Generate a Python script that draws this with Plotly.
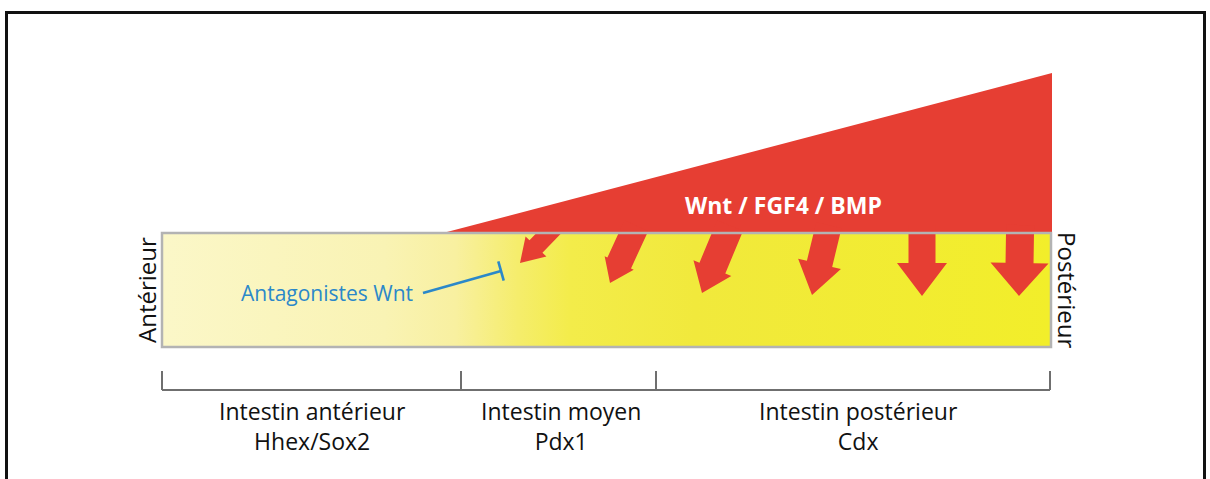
import math
import plotly.graph_objects as go

# ---------------- data ----------------
W, H = 1210, 479
FONT = "Open Sans"

# gut tube (yellow band)
TUBE_X = [162, 1051]
TUBE_Y = [233, 347]
# tube colour gradient (position fraction, colour)
GRAD_POS = [0.0, 0.25, 0.33, 0.40, 0.46, 0.60, 1.0]
GRAD_COL = ["#fbf7c8", "#f9f3b4", "#f8f0a0", "#f5ed6c", "#f3ec4a", "#f1e93c", "#f2ee2a"]

# Wnt/FGF4/BMP gradient wedge
WEDGE_X = [443, 1052, 1052]
WEDGE_Y = [233, 73, 233]
SIGNAL_LABEL = "Wnt / FGF4 / BMP"

# arrows: shaft centre at tube top, tip, shaft width, head width, head length
ARROW_BASE_X = [549, 633, 727, 827, 922, 1020]
ARROW_TIP_X = [520, 610, 702, 812, 922, 1019]
ARROW_TIP_Y = [263, 283, 293, 295, 296, 296]
ARROW_SHAFT_W = [18, 26, 28, 26, 27, 28]
ARROW_HEAD_W = [29, 32, 41, 44, 50, 58]
ARROW_HEAD_L = [23, 22, 27, 32, 33, 33]

# inhibitor
INHIB_LABEL = "Antagonistes Wnt"
INHIB_X = [423, 501]
INHIB_Y = [293, 271]

# segments along the axis
SEG_BOUNDS = [162, 461, 656, 1050]
SEG_TITLES = ["Intestin antérieur", "Intestin moyen", "Intestin postérieur"]
SEG_MARKERS = ["Hhex/Sox2", "Pdx1", "Cdx"]
SEG_LABEL_X = [312, 561, 858]

END_LABELS = ["Antérieur", "Postérieur"]

RED = "#e63e33"
BLUE = "#2b88c9"

# ---------------- figure ----------------
fig = go.Figure()

# yellow tube with horizontal gradient
fig.add_trace(go.Scatter(
    x=[TUBE_X[0], TUBE_X[1], TUBE_X[1], TUBE_X[0], TUBE_X[0]],
    y=[TUBE_Y[0], TUBE_Y[0], TUBE_Y[1], TUBE_Y[1], TUBE_Y[0]],
    mode="lines", line=dict(width=0), fill="toself",
    fillgradient=dict(type="horizontal",
                      colorscale=[[p, c] for p, c in zip(GRAD_POS, GRAD_COL)],
                      start=TUBE_X[0], stop=TUBE_X[1]),
    hoverinfo="skip", showlegend=False))

# red wedge
fig.add_trace(go.Scatter(
    x=WEDGE_X + [WEDGE_X[0]], y=WEDGE_Y + [WEDGE_Y[0]],
    mode="lines", line=dict(width=0, color=RED), fill="toself", fillcolor=RED,
    hoverinfo="skip", showlegend=False))


def arrow_polygon(bx, by, tx, ty, sw, hw, hl, back=8):
    L = math.hypot(tx - bx, ty - by)
    ux, uy = (tx - bx) / L, (ty - by) / L
    nx, ny = -uy, ux
    sx, sy = bx - ux * back, by - uy * back
    kx, ky = tx - ux * hl, ty - uy * hl
    pts = [
        (sx + nx * sw / 2, sy + ny * sw / 2),
        (kx + nx * sw / 2, ky + ny * sw / 2),
        (kx + nx * hw / 2, ky + ny * hw / 2),
        (tx, ty),
        (kx - nx * hw / 2, ky - ny * hw / 2),
        (kx - nx * sw / 2, ky - ny * sw / 2),
        (sx - nx * sw / 2, sy - ny * sw / 2),
    ]
    pts.append(pts[0])
    return [p[0] for p in pts], [p[1] for p in pts]


for bx, tx, ty, sw, hw, hl in zip(ARROW_BASE_X, ARROW_TIP_X, ARROW_TIP_Y,
                                  ARROW_SHAFT_W, ARROW_HEAD_W, ARROW_HEAD_L):
    xs, ys = arrow_polygon(bx, TUBE_Y[0], tx, ty, sw, hw, hl)
    fig.add_trace(go.Scatter(x=xs, y=ys, mode="lines",
                             line=dict(width=0, color=RED), fill="toself",
                             fillcolor=RED, hoverinfo="skip", showlegend=False))

# inhibitor line with T-bar
fig.add_trace(go.Scatter(x=INHIB_X, y=INHIB_Y, mode="lines",
                         line=dict(color=BLUE, width=2.6),
                         hoverinfo="skip", showlegend=False))
ang = math.atan2(INHIB_Y[1] - INHIB_Y[0], INHIB_X[1] - INHIB_X[0])
nx, ny = -math.sin(ang), math.cos(ang)
fig.add_trace(go.Scatter(
    x=[INHIB_X[1] - nx * 10, INHIB_X[1] + nx * 10],
    y=[INHIB_Y[1] - ny * 10, INHIB_Y[1] + ny * 10],
    mode="lines", line=dict(color=BLUE, width=2.6),
    hoverinfo="skip", showlegend=False))

shapes = []
# outer frame
shapes.append(dict(type="rect", x0=6.5, y0=12.5, x1=1204.5, y1=495,
                   line=dict(color="#111111", width=3), fillcolor="rgba(0,0,0,0)"))
# tube border
shapes.append(dict(type="rect", x0=TUBE_X[0], y0=TUBE_Y[0], x1=TUBE_X[1], y1=TUBE_Y[1],
                   line=dict(color="#b3b3b3", width=2.5), fillcolor="rgba(0,0,0,0)"))
# bracket
BR_Y, BR_TOP = 390, 371
shapes.append(dict(type="line", x0=SEG_BOUNDS[0], x1=SEG_BOUNDS[-1], y0=BR_Y, y1=BR_Y,
                   line=dict(color="#6f6f6f", width=2)))
for b in SEG_BOUNDS:
    shapes.append(dict(type="line", x0=b, x1=b, y0=BR_TOP, y1=BR_Y,
                       line=dict(color="#6f6f6f", width=2)))

annotations = []
annotations.append(dict(x=783, y=205, text="<b>" + SIGNAL_LABEL + "</b>", showarrow=False,
                        font=dict(family=FONT, size=23, color="white"),
                        xanchor="center", yanchor="middle"))
annotations.append(dict(x=327, y=293, text=INHIB_LABEL, showarrow=False,
                        font=dict(family=FONT, size=21, color=BLUE),
                        xanchor="center", yanchor="middle"))
annotations.append(dict(x=146, y=290, text=END_LABELS[0], showarrow=False, textangle=-90,
                        font=dict(family=FONT, size=24, color="#111111"),
                        xanchor="center", yanchor="middle"))
annotations.append(dict(x=1068, y=290, text=END_LABELS[1], showarrow=False, textangle=90,
                        font=dict(family=FONT, size=24, color="#111111"),
                        xanchor="center", yanchor="middle"))
for lx, t, m in zip(SEG_LABEL_X, SEG_TITLES, SEG_MARKERS):
    annotations.append(dict(x=lx, y=426, text=t + "<br>" + m, showarrow=False,
                            font=dict(family=FONT, size=23, color="#111111"),
                            xanchor="center", yanchor="middle", align="center"))

fig.update_layout(
    width=W, height=H, margin=dict(l=0, r=0, t=0, b=0),
    paper_bgcolor="white", plot_bgcolor="white",
    xaxis=dict(range=[0, W], visible=False, fixedrange=True),
    yaxis=dict(range=[H, 0], visible=False, fixedrange=True),
    shapes=shapes, annotations=annotations, showlegend=False,
)

fig.write_html(
    "out.html",
    config={"displayModeBar": False},
    post_script="document.body.style.margin='0';document.body.style.overflow='hidden';",
)
